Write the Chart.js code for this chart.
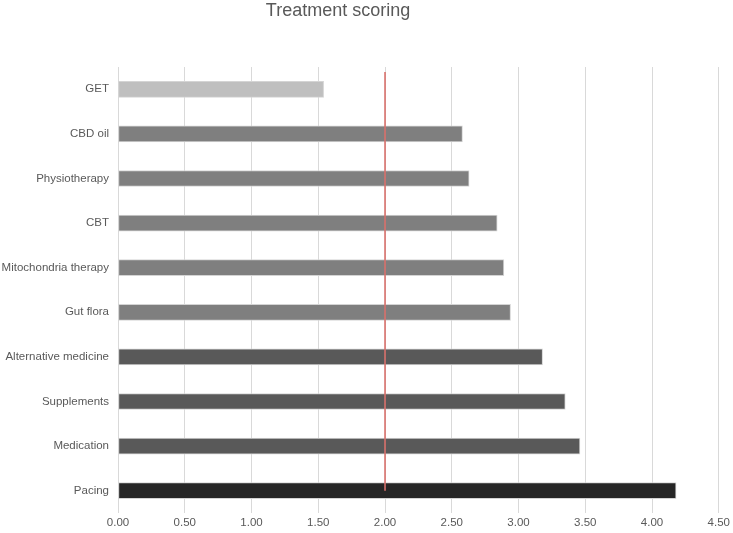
<!DOCTYPE html>
<html>
<head>
<meta charset="utf-8">
<script src="https://cdn.jsdelivr.net/npm/chart.js@4/dist/chart.umd.min.js"></script>
<style>
  html, body { margin: 0; padding: 0; background: #ffffff; }
  #wrap { position: relative; width: 733px; height: 533px; }
</style>
</head>
<body>
<div id="wrap"><canvas id="c"></canvas></div>
<script>
const chartTitle = "Treatment scoring";
const categories = ["GET", "CBD oil", "Physiotherapy", "CBT", "Mitochondria therapy", "Gut flora", "Alternative medicine", "Supplements", "Medication", "Pacing"];
const scores = [1.54, 2.58, 2.63, 2.84, 2.89, 2.94, 3.18, 3.35, 3.46, 4.18];
const barColors = ["#bfbfbf", "#7f7f7f", "#7f7f7f", "#7f7f7f", "#7f7f7f", "#7f7f7f", "#595959", "#595959", "#595959", "#262626"];
const referenceValue = 2;
const referenceSpan = [-0.39, 9];   // category-index positions of the line's top and bottom ends
const xTicks = [0, 0.5, 1, 1.5, 2, 2.5, 3, 3.5, 4, 4.5];

const titlePlugin = {
  id: 'customTitle',
  afterDraw(chart) {
    const ctx = chart.ctx;
    ctx.save();
    ctx.font = '18px "Liberation Sans", Arial, sans-serif';
    ctx.fillStyle = '#595959';
    ctx.textAlign = 'center';
    ctx.textBaseline = 'middle';
    ctx.fillText(chartTitle, 338, 11);
    ctx.restore();
  }
};

const referenceLinePlugin = {
  id: 'referenceLine',
  afterDatasetsDraw(chart) {
    const xs = chart.scales.x, ys = chart.scales.y;
    const px = xs.getPixelForValue(referenceValue);
    const y0 = ys.getPixelForValue(referenceSpan[0]);
    const y1 = ys.getPixelForValue(referenceSpan[1]);
    const ctx = chart.ctx;
    ctx.save();
    ctx.strokeStyle = '#d9716c';
    ctx.lineWidth = 1.6;
    ctx.beginPath();
    ctx.moveTo(px, y0);
    ctx.lineTo(px, y1);
    ctx.stroke();
    ctx.restore();
  }
};

new Chart(document.getElementById('c'), {
  type: 'bar',
  data: {
    labels: categories,
    datasets: [
      {
        label: 'Score',
        data: scores,
        backgroundColor: barColors,
        borderColor: '#d4d4d4',
        borderWidth: 1,
        borderSkipped: false,
        barThickness: 16
      }
    ]
  },
  options: {
    indexAxis: 'y',
    responsive: true,
    maintainAspectRatio: false,
    animation: false,
    layout: { padding: { top: 67, right: 14, bottom: 0, left: 0 } },
    plugins: {
      legend: { display: false },
      title: { display: false },
      tooltip: { enabled: false }
    },
    scales: {
      x: {
        min: 0,
        max: 4.5,
        afterBuildTicks(scale) { scale.ticks = xTicks.map(v => ({ value: v })); },
        ticks: {
          callback: v => Number(v).toFixed(2),
          color: '#595959',
          font: { family: '"Liberation Sans", Arial, sans-serif', size: 11.5 },
          padding: 3,
          maxRotation: 0
        },
        grid: { color: '#d9d9d9', lineWidth: 1, drawTicks: false },
        border: { display: false },
        afterFit(scale) { scale.height = 20; }
      },
      y: {
        ticks: {
          color: '#595959',
          font: { family: '"Liberation Sans", Arial, sans-serif', size: 11.5 },
          padding: 9
        },
        grid: { display: false, drawTicks: false },
        border: { display: false },
        afterFit(scale) { scale.width = 118; }
      }
    }
  },
  plugins: [titlePlugin, referenceLinePlugin]
});
</script>
</body>
</html>
